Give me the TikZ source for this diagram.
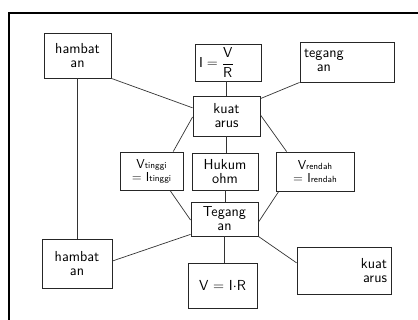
\documentclass[tikz,border=0pt]{standalone}
\usetikzlibrary{calc}
\begin{document}
\begin{tikzpicture}[x=1pt,y=-1pt,
  box/.style={draw=black!85,line width=0.9pt,inner sep=2pt,align=center,
    font=\fontsize{14.5}{14}\sffamily},
  conn/.style={draw=black!80,line width=0.7pt}]
\useasboundingbox (0,0) rectangle (418,320);
\draw[line width=2pt] (9,320) -- (9,13) -- (418,13);
\node[box,minimum width=67pt,minimum height=45pt] (h1) at (77.5,55.5) {hambat\\an};
\node[box,minimum width=66pt,minimum height=37pt,text width=58pt,align=left] (ivr) at (228,62.5) {$\mathsf{I}=\displaystyle\frac{\mathsf{V}}{\mathsf{R}}$};
\node[box,minimum width=94pt,minimum height=40pt,text width=86pt,align=left] (t1) at (347,62) {\begin{tabular}{@{}c@{}}tegang\\an\end{tabular}};
\node[box,minimum width=67pt,minimum height=40pt] (ka) at (226.5,116) {kuat\\arus};
\node[box,minimum width=63pt,minimum height=38pt,font=\fontsize{13}{13}\sffamily] (vt) at (151.5,171) {V{\small tinggi}\\= I{\small tinggi}};
\node[box,minimum width=66pt,minimum height=37pt] (ho) at (225,171.5) {Hukum\\ohm};
\node[box,minimum width=78pt,minimum height=39pt,font=\fontsize{13}{13}\sffamily] (vr) at (315,171.5) {V{\small rendah}\\= I{\small rendah}};
\node[box,minimum width=67pt,minimum height=34pt] (tg) at (224.5,219) {Tegang\\an};
\node[box,minimum width=70pt,minimum height=49pt] (h2) at (77,263.5) {hambat\\an};
\node[box,minimum width=69pt,minimum height=45pt] (vir) at (222.5,285.5) {V = I$\cdot$R};
\node[box,minimum width=94pt,minimum height=47pt,text width=86pt,align=right] (ka2) at (344,270.5) {kuat\\arus};
\draw[conn] (h1.south) -- (h1.south |- h2.north);
\draw[conn] (h1.south east) -- ($(ka.north west)!0.3!(ka.south west)$);
\draw[conn] (ka.north |- ivr.south) -- (ka.north);
\draw[conn] (t1.south west) -- ($(ka.north east)!0.075!(ka.south east)$);
\draw[conn] ($(ka.north west)!0.525!(ka.south west)$) -- ($(vt.north west)!0.84!(vt.north east)$);
\draw[conn] (ka.south) -- (ka.south |- ho.north);
\draw[conn] ($(ka.north east)!0.475!(ka.south east)$) -- ($(vr.north west)!0.14!(vr.north east)$);
\draw[conn] ($(vt.south west)!0.79!(vt.south east)$) -- ($(tg.north west)!0.53!(tg.south west)$);
\draw[conn] (ho.south) -- (ho.south |- tg.north);
\draw[conn] ($(vr.south west)!0.04!(vr.south east)$) -- ($(tg.north east)!0.59!(tg.south east)$);
\draw[conn] ($(tg.north west)!0.94!(tg.south west)$) -- ($(h2.north east)!0.45!(h2.south east)$);
\draw[conn] (tg.south) -- (tg.south |- vir.north);
\draw[conn] (tg.south east) -- ($(ka2.north west)!0.34!(ka2.south west)$);
\end{tikzpicture}
\end{document}
